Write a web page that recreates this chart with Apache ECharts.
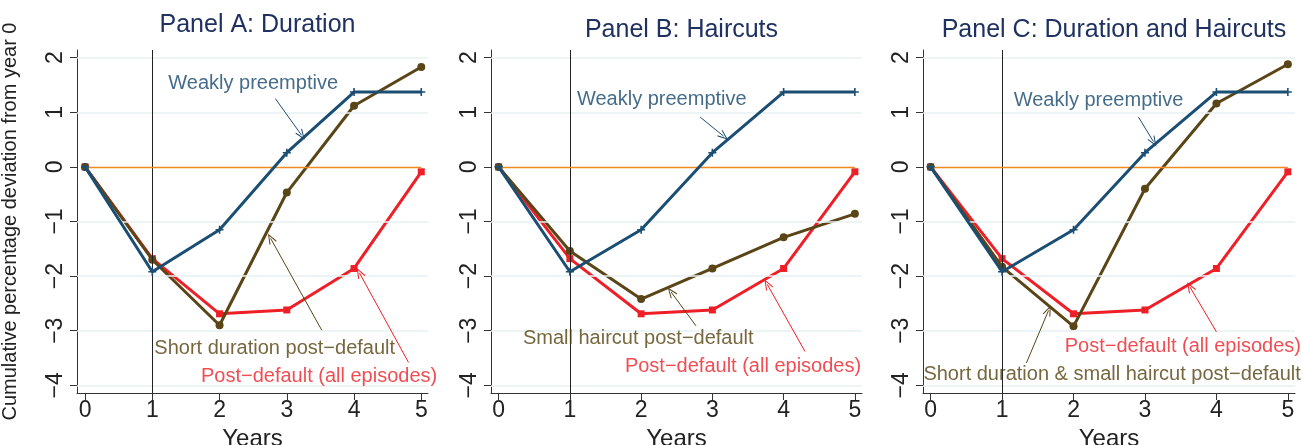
<!DOCTYPE html>
<html><head><meta charset="utf-8">
<script src="https://cdn.jsdelivr.net/npm/echarts@6/dist/echarts.min.js"></script>
<style>html,body{margin:0;padding:0;background:#fff}#c{width:1303px;height:445px}</style>
</head><body><div id="c"></div>
<script>
// ---- data ----
const years = [0, 1, 2, 3, 4, 5];
const yTicks = [-4, -3, -2, -1, 0, 1, 2];
const panelTitles = ['Panel A: Duration', 'Panel B: Haircuts', 'Panel C: Duration and Haircuts'];
const weaklyPreemptive = [0, -1.92, -1.15, 0.26, 1.37, 1.37];
const postDefaultAll = [0, -1.68, -2.69, -2.62, -1.86, -0.09];
const shortDuration = [0, -1.70, -2.90, -0.47, 1.12, 1.83];
const smallHaircut = [0, -1.54, -2.42, -1.86, -1.29, -0.86];
const shortDurSmallHaircut = [0, -1.83, -2.92, -0.40, 1.16, 1.88];
const brownSeries = [shortDuration, smallHaircut, shortDurSmallHaircut];
const blueLabel = 'Weakly preemptive';
const redLabel = 'Post\u2212default (all episodes)';
const brownLabels = ['Short duration post\u2212default', 'Small haircut post\u2212default',
  'Short duration & small haircut post\u2212default'];
const yAxisTitle = 'Cumulative percentage deviation from year 0';
const xAxisTitle = 'Years';

// ---- layout (annotation anchors in data units) ----
const annot = [
  { blue: [2.50, 1.53], blueArrow: [[2.83, 1.25], [3.22, 0.58]],
    brown: [2.82, -3.32], brownArrow: [[3.52, -2.99], [2.76, -1.31]],
    red: [3.48, -3.84], redArrow: [[4.81, -3.58], [4.08, -1.94]] },
  { blue: [2.29, 1.23], blueArrow: [[2.83, 0.91], [3.16, 0.56]],
    brown: [1.96, -3.14], brownArrow: [[2.77, -2.91], [2.42, -2.29]],
    red: [3.43, -3.66], redArrow: [[4.30, -3.38], [3.77, -2.15]] },
  { blue: [2.35, 1.22], blueArrow: [[2.91, 0.91], [3.12, 0.46]],
    brown: [2.54, -3.81], brownArrow: [[1.34, -3.59], [1.65, -2.63]],
    red: [3.53, -3.29], redArrow: [[4.00, -3.02], [3.63, -2.20]] }
];
const grids = [
  { left: 77, width: 351, xmin: -0.12 },
  { left: 491, width: 371, xmin: -0.107 },
  { left: 923, width: 372, xmin: -0.107 }
];
const C_BLUE = '#1b4e73', C_BROWN = '#5a4517', C_RED = '#ee1f27', C_ORANGE = '#f0891f', C_TITLE = '#1f3161';
const T_BLUE = '#15466b', T_BROWN = '#55410f';
const FONT = 'Liberation Sans, Arial, sans-serif';
const chevron = 'path://M0,10 L5,0 L10,10 L9,10.8 L5,2.6 L1,10.8 Z';
const plusSym = 'path://M4,0 L6,0 L6,4 L10,4 L10,6 L6,6 L6,10 L4,10 L4,6 L0,6 L0,4 L4,4 Z';

const option = {
  backgroundColor: '#fff',
  animation: false,
  title: [], grid: [], xAxis: [], yAxis: [], series: []
};

grids.forEach((g, i) => {
  option.title.push({
    text: panelTitles[i], left: g.left + g.width / 2, top: i === 0 ? 8 : 13, textAlign: 'center',
    textStyle: { fontFamily: FONT, fontSize: 25, fontWeight: 'normal', color: C_TITLE }
  });
  option.grid.push({ left: g.left, width: g.width, top: 50, height: 343, containLabel: false, outerBoundsMode: 'none' });
  option.xAxis.push({
    type: 'value', gridIndex: i, min: g.xmin, max: 5.1,
    name: xAxisTitle, nameLocation: 'middle', nameGap: 29,
    nameTextStyle: { fontFamily: FONT, fontSize: 24, color: '#222' },
    axisLine: { show: true, onZero: false, lineStyle: { color: '#333', width: 1 } },
    axisTick: { show: true, length: 7, customValues: years, lineStyle: { color: '#333' } },
    axisLabel: { customValues: years, margin: 6, fontFamily: FONT, fontSize: 23, color: '#222' },
    splitLine: { show: false }
  });
  option.yAxis.push({
    type: 'value', gridIndex: i, min: -4.14, max: 2.14,
    name: i === 0 ? yAxisTitle : '', nameLocation: 'middle', nameGap: 57, nameRotate: 90,
    nameTextStyle: { fontFamily: FONT, fontSize: 20, color: '#222' },
    axisLine: { show: true, onZero: false, lineStyle: { color: '#333', width: 1 } },
    axisTick: { show: true, length: 7, customValues: yTicks, lineStyle: { color: '#333' } },
    axisLabel: { customValues: yTicks, rotate: 90, margin: 10, fontFamily: FONT, fontSize: 23, color: '#222',
      formatter: v => (v < 0 ? '\u2212' + Math.abs(v) : String(v)) },
    splitLine: { show: false }
  });
  const pts = arr => years.map((x, j) => [x, arr[j]]);
  const a = annot[i];
  // helper: gridlines and vertical line at year 1
  option.series.push({
    type: 'line', xAxisIndex: i, yAxisIndex: i, data: [], z: 1, silent: true,
    markLine: {
      silent: true, symbol: ['none', 'none'], label: { show: false }, animation: false,
      data: yTicks.filter(v => v !== 0).map(v => ({ yAxis: v, lineStyle: { color: '#e7f0f2', width: 1.5, type: 'solid' } }))
        .concat([{ xAxis: 1, lineStyle: { color: '#222', width: 1, type: 'solid' } }])
    }
  });
  option.series.push({
    type: 'line', xAxisIndex: i, yAxisIndex: i, data: pts(postDefaultAll), z: 3,
    color: C_RED, lineStyle: { width: 3, color: C_RED }, symbol: 'rect', symbolSize: 7,
    itemStyle: { color: C_RED }, showSymbol: true
  });
  option.series.push({
    type: 'line', xAxisIndex: i, yAxisIndex: i, data: pts(brownSeries[i]), z: 4,
    color: C_BROWN, lineStyle: { width: 3, color: C_BROWN }, symbol: 'circle', symbolSize: 8,
    itemStyle: { color: C_BROWN }
  });
  option.series.push({
    type: 'line', xAxisIndex: i, yAxisIndex: i, data: pts(weaklyPreemptive), z: 5,
    color: C_BLUE, lineStyle: { width: 3, color: C_BLUE }, symbol: plusSym, symbolSize: 8,
    itemStyle: { color: C_BLUE }
  });
  // zero line
  option.series.push({
    type: 'line', xAxisIndex: i, yAxisIndex: i, data: [], z: 6, silent: true,
    markLine: {
      silent: true, symbol: ['none', 'none'], label: { show: false }, animation: false,
      lineStyle: { color: C_ORANGE, width: 1.3, type: 'solid', opacity: 1 },
      data: [[{ coord: [0, 0] }, { coord: [5, 0] }]]
    }
  });
  // arrows
  const arrow = (seg, col) => [
    { coord: seg[0], lineStyle: { color: col, width: 1, type: 'solid' } },
    { coord: seg[1] }
  ];
  option.series.push({
    type: 'line', xAxisIndex: i, yAxisIndex: i, data: [], z: 7, silent: true,
    markLine: {
      silent: true, symbol: ['none', chevron], symbolSize: [8, 11], label: { show: false }, animation: false,
      data: [arrow(a.blueArrow, C_BLUE), arrow(a.brownArrow, C_BROWN), arrow(a.redArrow, C_RED)]
    }
  });
  // text annotations
  const lab = (pos, text, col) => ({
    value: [pos[0], pos[1], text],
    label: { show: true, position: 'inside', formatter: p => p.value[2], color: col,
      fontFamily: FONT, fontSize: 20 }
  });
  option.series.push({
    type: 'scatter', xAxisIndex: i, yAxisIndex: i, z: 8, silent: true, symbolSize: 1,
    itemStyle: { color: 'rgba(0,0,0,0)' },
    data: [lab(a.blue, blueLabel, T_BLUE), lab(a.brown, brownLabels[i], T_BROWN), lab(a.red, redLabel, C_RED)]
  });
});

const chart = echarts.init(document.getElementById('c'), null, { renderer: 'canvas' });
chart.setOption(option);
</script></body></html>
